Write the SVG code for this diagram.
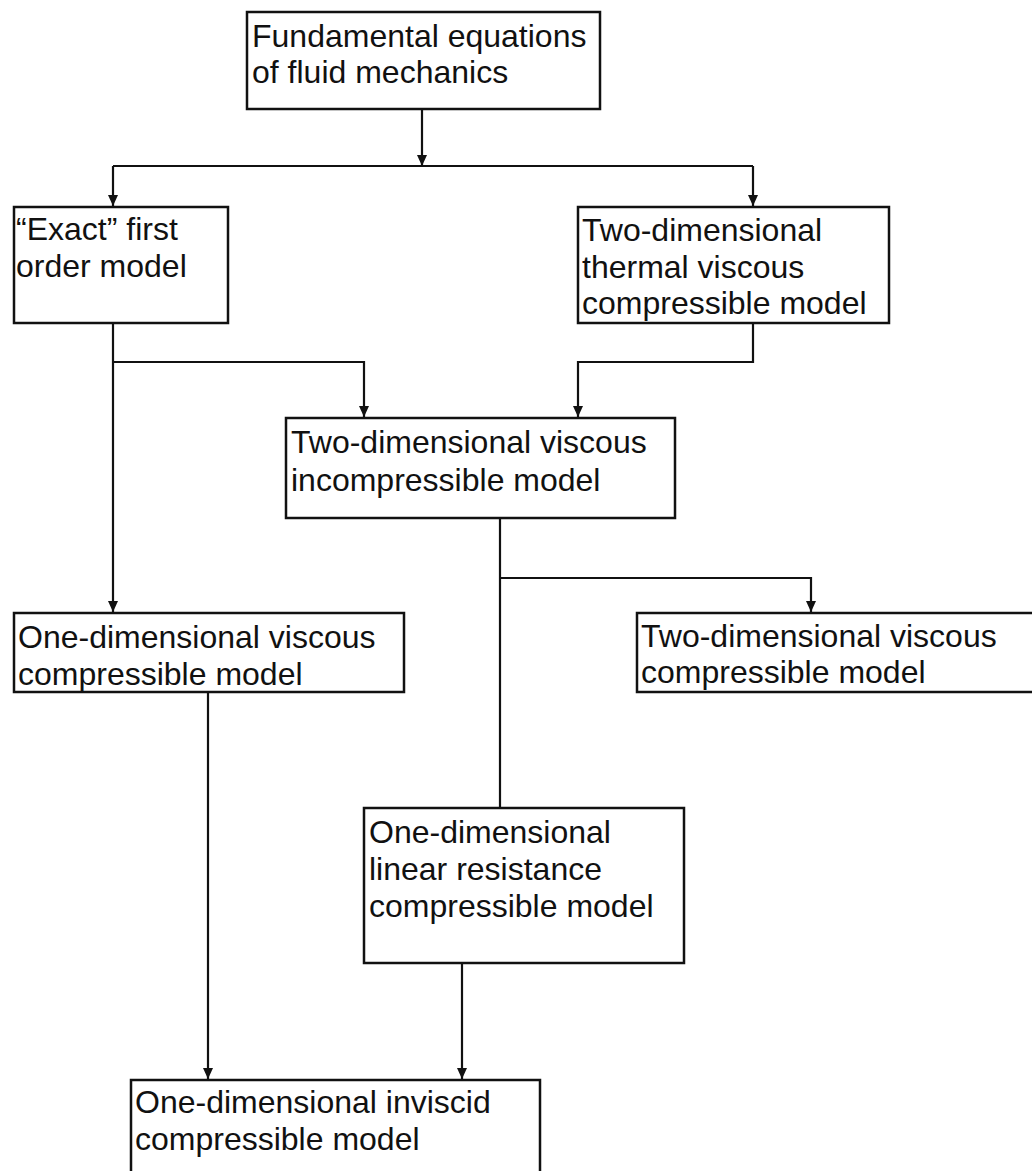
<svg xmlns="http://www.w3.org/2000/svg" width="1032" height="1171" viewBox="0 0 1032 1171">
<style>
.box{fill:#fff;stroke:#111;stroke-width:2.5}
.t{font-family:"Liberation Sans",Arial,sans-serif;font-size:32px;fill:#111}
.c{fill:none;stroke:#111;stroke-width:2.2}
</style>
<defs>
<marker id="ah" markerWidth="11" markerHeight="10" refX="11" refY="5" orient="auto" markerUnits="userSpaceOnUse" viewBox="0 0 11 10">
<path d="M0,0 L11,5 L0,10 Z" fill="#111"/>
</marker>
</defs>
<rect width="1032" height="1171" fill="#fff"/>
<g id="connectors">
<path class="c" d="M422,109 V166" marker-end="url(#ah)"/>
<path class="c" d="M113,166 H753"/>
<path class="c" d="M113,166 V206" marker-end="url(#ah)"/>
<path class="c" d="M753,166 V206" marker-end="url(#ah)"/>
<path class="c" d="M113,323 V612" marker-end="url(#ah)"/>
<path class="c" d="M113,362 H364 V417" marker-end="url(#ah)"/>
<path class="c" d="M753,323 V362 H578 V417" marker-end="url(#ah)"/>
<path class="c" d="M500,518 V808"/>
<path class="c" d="M500,578 H811 V612" marker-end="url(#ah)"/>
<path class="c" d="M208,692 V1079" marker-end="url(#ah)"/>
<path class="c" d="M462,963 V1079" marker-end="url(#ah)"/>
</g>
<g id="n-fundamental">
<rect class="box" x="247" y="12" width="353" height="97"/>
<text class="t" x="252" y="47">Fundamental equations</text>
<text class="t" x="252" y="83">of fluid mechanics</text>
</g>
<g id="n-exact">
<rect class="box" x="14" y="207" width="214" height="116"/>
<text class="t" x="16" y="240">“Exact” first</text>
<text class="t" x="16" y="277">order model</text>
</g>
<g id="n-thermal">
<rect class="box" x="578" y="207" width="311" height="116"/>
<text class="t" x="582" y="241">Two-dimensional</text>
<text class="t" x="582" y="278">thermal viscous</text>
<text class="t" x="582" y="314">compressible model</text>
</g>
<g id="n-incompressible">
<rect class="box" x="286" y="418" width="389" height="100"/>
<text class="t" x="291" y="453">Two-dimensional viscous</text>
<text class="t" x="291" y="491">incompressible model</text>
</g>
<g id="n-1d-viscous">
<rect class="box" x="14" y="613" width="390" height="79"/>
<text class="t" x="18" y="648">One-dimensional viscous</text>
<text class="t" x="18" y="685">compressible model</text>
</g>
<g id="n-2d-viscous">
<rect class="box" x="637" y="613" width="400" height="79"/>
<text class="t" x="641" y="647">Two-dimensional viscous</text>
<text class="t" x="641" y="683">compressible model</text>
</g>
<g id="n-linear">
<rect class="box" x="364" y="808" width="320" height="155"/>
<text class="t" x="369" y="843">One-dimensional</text>
<text class="t" x="369" y="880">linear resistance</text>
<text class="t" x="369" y="917">compressible model</text>
</g>
<g id="n-inviscid">
<rect class="box" x="131" y="1080" width="409" height="100"/>
<text class="t" x="135" y="1113">One-dimensional inviscid</text>
<text class="t" x="135" y="1150">compressible model</text>
</g>
</svg>
